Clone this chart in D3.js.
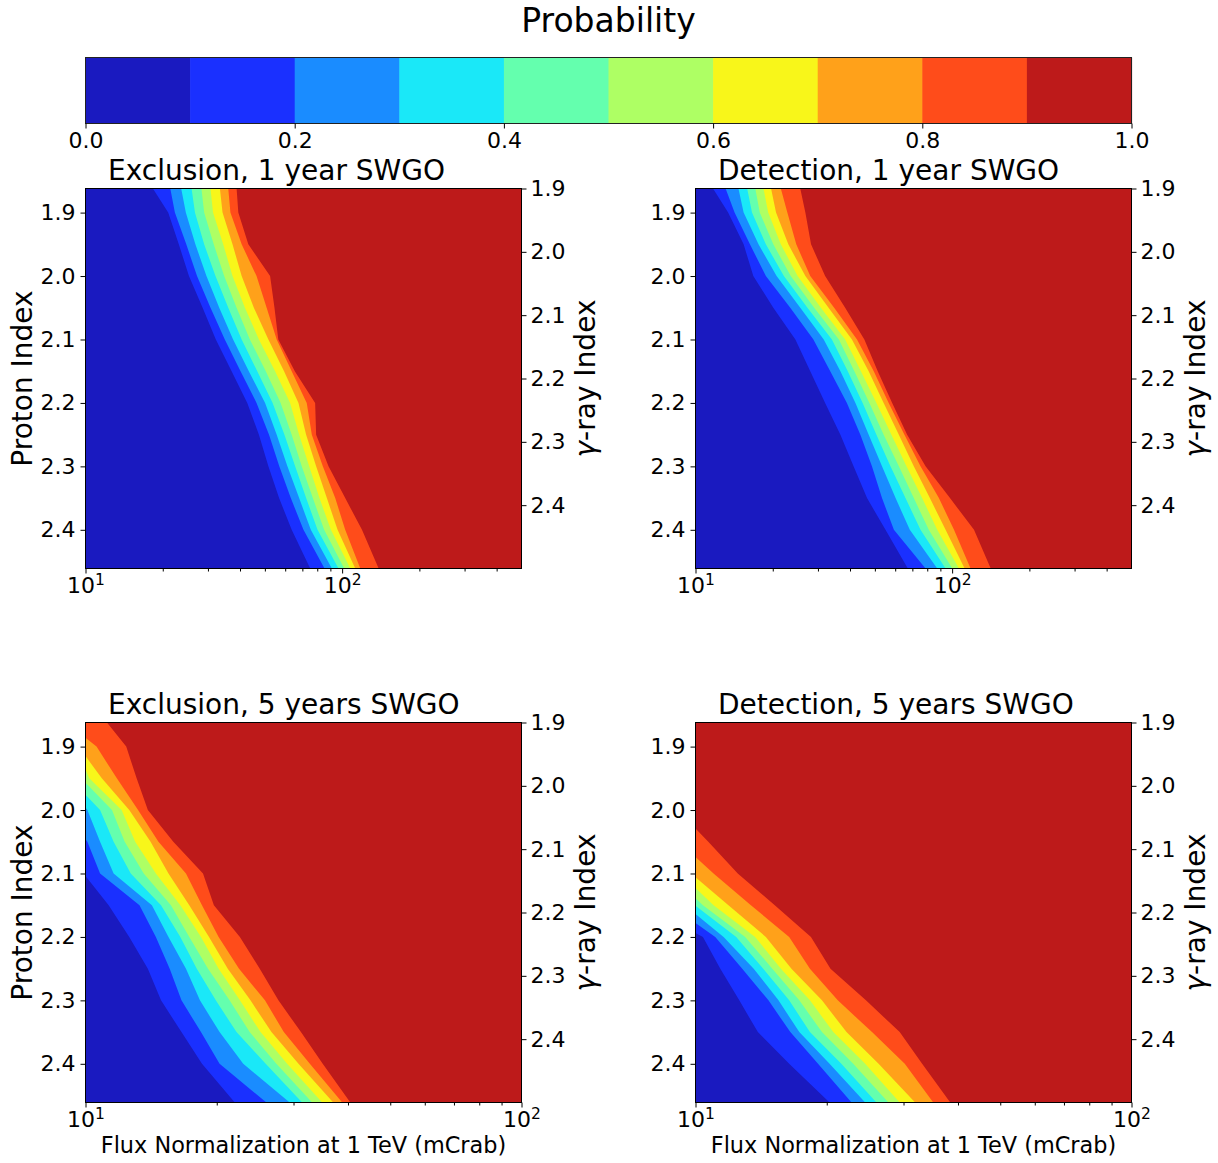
<!DOCTYPE html>
<html>
<head>
<meta charset="utf-8">
<script src="https://cdn.jsdelivr.net/npm/d3@7"></script>
<style>
  body { margin: 0; background: #ffffff; }
  svg { display: block; }
  text { font-family: "DejaVu Sans", sans-serif; fill: #000; }
</style>
</head>
<body>
<svg id="chart" width="1218" height="1163"></svg>
<script>
// ---- contour levels and the jet-style colours of the ten bands ----
const levels = [0.0, 0.1, 0.2, 0.3, 0.4, 0.5, 0.6, 0.7, 0.8, 0.9, 1.0];
const levelColors = ["#1a1ac0", "#1a30ff", "#1a8cff", "#1ae8f8", "#64ffae",
                     "#aeff64", "#f8f61a", "#ffa11a", "#ff4c1a", "#bd1a1a"];
const colorbarTicks = [0.0, 0.2, 0.4, 0.6, 0.8, 1.0];

// ---- axes ----
const protonDomain = [1.862, 2.461];
const gammaDomain = [1.9, 2.5];
const protonTicks = [1.9, 2.0, 2.1, 2.2, 2.3, 2.4];
const gammaTicks = [1.9, 2.0, 2.1, 2.2, 2.3, 2.4];
const fluxDomain1yr = [10, 500];
const fluxDomain5yr = [10, 100];
const fluxDecades = [10, 100];
const fluxMinor1yr = [20, 30, 40, 50, 60, 70, 80, 90, 200, 300, 400];
const fluxMinor5yr = [20, 30, 40, 50, 60, 70, 80, 90];

// proton index rows at which the probability contours are tabulated
const protonIndexRows = [1.862, 1.90, 1.95, 2.00, 2.05, 2.10, 2.15, 2.20, 2.25, 2.30, 2.35, 2.40, 2.461];

// flux (mCrab) where the probability reaches 0.1, 0.2, ... 0.9 on each row
const exclusion1yrFlux = [
  [18.3, 21.4, 23.6, 25.9, 28.3, 30.7, 33.4, 36.0, 38.8],
  [21.0, 22.3, 24.6, 26.7, 29.0, 31.4, 34.2, 36.7, 39.4],
  [23.1, 24.7, 26.8, 29.0, 31.6, 34.4, 37.4, 40.6, 43.1],
  [25.3, 27.2, 29.6, 32.1, 34.7, 37.4, 40.6, 46.4, 52.4],
  [28.6, 30.7, 33.2, 36.0, 38.8, 41.8, 45.3, 50.8, 54.5],
  [32.2, 34.9, 37.6, 40.6, 43.7, 47.4, 51.6, 55.6, 56.4],
  [37.1, 40.2, 43.3, 46.7, 50.4, 54.8, 59.4, 63.6, 65.4],
  [42.7, 46.4, 50.1, 53.6, 57.6, 62.7, 67.6, 72.8, 78.5],
  [47.4, 51.9, 55.6, 59.6, 63.6, 68.0, 72.4, 76.2, 79.2],
  [51.6, 56.9, 61.2, 65.6, 69.6, 74.4, 79.2, 84.1, 88.5],
  [56.8, 63.1, 68.0, 72.4, 76.9, 81.6, 87.2, 94.0, 102.8],
  [63.6, 70.7, 75.5, 80.2, 85.1, 90.4, 96.0, 102.8, 119.5],
  [75.1, 85.4, 91.2, 96.8, 101.9, 107.6, 112.5, 117.7, 138.8]
];
const detection1yrFlux = [
  [11.7, 13.1, 14.7, 15.9, 17.1, 18.4, 19.7, 21.5, 25.6],
  [13.4, 14.2, 15.4, 16.6, 17.8, 19.2, 20.6, 22.8, 26.8],
  [15.4, 16.3, 17.6, 18.8, 20.1, 21.5, 23.0, 24.7, 28.2],
  [16.8, 18.8, 20.7, 22.1, 23.5, 25.0, 26.8, 28.0, 32.0],
  [20.1, 23.4, 25.6, 27.3, 29.0, 30.8, 33.0, 34.7, 38.3],
  [24.5, 28.8, 31.6, 34.0, 36.2, 38.3, 40.7, 42.6, 45.5],
  [28.0, 33.5, 36.7, 39.2, 41.6, 44.1, 47.3, 49.5, 51.3],
  [32.0, 38.9, 42.0, 44.8, 47.6, 50.7, 54.1, 56.6, 58.4],
  [36.7, 43.9, 47.3, 50.7, 54.1, 58.0, 62.0, 65.2, 66.8],
  [41.3, 48.7, 53.3, 57.5, 62.0, 66.4, 70.9, 75.3, 78.8],
  [46.6, 53.3, 60.2, 65.8, 70.9, 76.4, 81.9, 88.8, 98.1],
  [55.0, 59.3, 68.4, 75.3, 81.1, 87.5, 94.3, 101.7, 121.7],
  [67.2, 78.8, 87.5, 94.3, 100.1, 106.3, 111.9, 118.0, 141.4]
];
// null: that contour has not yet come in from the 10 mCrab edge on this row
const exclusion5yrFlux = [
  [null, null, null, null, null, null, null, null, 11.2],
  [null, null, null, null, null, null, null, 10.6, 12.4],
  [null, null, null, null, null, 10.2, 10.9, 11.8, 13.1],
  [null, null, 10.1, 10.8, 11.5, 12.1, 12.6, 13.2, 13.9],
  [null, 10.1, 10.8, 11.6, 12.3, 13.0, 14.1, 14.7, 15.9],
  [null, 10.8, 11.6, 12.7, 13.6, 14.5, 15.5, 17.0, 18.6],
  [11.3, 13.3, 14.2, 14.9, 15.7, 16.5, 17.3, 18.5, 19.7],
  [12.6, 14.5, 15.5, 16.5, 17.3, 18.4, 19.2, 20.2, 22.6],
  [13.9, 15.6, 17.0, 18.0, 19.1, 20.2, 21.2, 22.5, 25.1],
  [14.9, 16.6, 18.3, 19.9, 21.4, 22.6, 23.9, 25.8, 27.7],
  [16.6, 18.4, 20.3, 22.2, 23.8, 25.2, 26.7, 28.5, 31.2],
  [18.5, 20.3, 23.0, 25.9, 27.4, 29.0, 30.8, 32.7, 35.0],
  [22.0, 26.0, 29.4, 31.4, 33.1, 34.9, 37.0, 38.8, 40.5]
];
const detection5yrFlux = [
  [null, null, null, null, null, null, null, null, null],
  [null, null, null, null, null, null, null, null, null],
  [null, null, null, null, null, null, null, null, null],
  [null, null, null, null, null, null, null, null, null],
  [null, null, null, null, null, null, null, null, 10.7],
  [null, null, null, null, null, null, null, 11.0, 12.5],
  [null, null, null, null, 10.4, 11.0, 11.9, 13.4, 15.2],
  [10.4, 11.1, 11.6, 12.4, 13.0, 13.7, 14.5, 16.4, 18.4],
  [11.4, 12.8, 13.6, 14.3, 15.0, 15.7, 16.6, 18.3, 20.4],
  [12.6, 14.7, 15.5, 16.4, 17.3, 18.3, 19.5, 21.2, 24.6],
  [13.9, 16.5, 17.3, 18.3, 19.5, 20.7, 22.2, 25.4, 29.4],
  [16.4, 19.1, 20.3, 21.6, 23.0, 24.5, 26.3, 30.2, 33.1],
  [20.3, 22.8, 24.5, 26.0, 27.7, 29.4, 31.9, 35.1, 38.4]
];
// proton index at which each contour (0.1 ... 0.9) meets the 10 mCrab edge
const exclusion5yrEdge = [2.104, 2.046, 1.996, 1.976, 1.957, 1.936, 1.915, 1.886, null];
const detection5yrEdge = [2.194, 2.178, 2.164, 2.151, 2.139, 2.123, 2.106, 2.074, 2.029];

// ---- layout ----
const svg = d3.select("#chart");
const PW = 436, PH = 380;
const TICK_FONT = "22px";

const panels = [
  { title: "Exclusion, 1 year SWGO", flux: exclusion1yrFlux, edge: null,
    domain: fluxDomain1yr, minor: fluxMinor1yr, x0: 85.5, y0: 188.5, xlabel: false, ylabel: true },
  { title: "Detection, 1 year SWGO", flux: detection1yrFlux, edge: null,
    domain: fluxDomain1yr, minor: fluxMinor1yr, x0: 695.5, y0: 188.5, xlabel: false, ylabel: false },
  { title: "Exclusion, 5 years SWGO", flux: exclusion5yrFlux, edge: exclusion5yrEdge,
    domain: fluxDomain5yr, minor: fluxMinor5yr, x0: 85.5, y0: 722.5, xlabel: true, ylabel: true },
  { title: "Detection, 5 years SWGO", flux: detection5yrFlux, edge: detection5yrEdge,
    domain: fluxDomain5yr, minor: fluxMinor5yr, x0: 695.5, y0: 722.5, xlabel: true, ylabel: false }
];

function styleAxis(sel) {
  sel.select(".domain").remove();
  sel.attr("font-family", "DejaVu Sans, sans-serif").attr("font-size", TICK_FONT);
  sel.selectAll(".tick line").attr("stroke", "#000");
  sel.selectAll(".tick text").attr("fill", "#000");
}

// ---- colour bar ----
const cbX = d3.scaleLinear().domain([0, 1]).range([85.5, 1131.5]);
const cbTop = 57.5, cbH = 66;
const cb = svg.append("g");
cb.selectAll("rect.band").data(levelColors).join("rect")
  .attr("class", "band")
  .attr("x", (d, i) => cbX(levels[i]))
  .attr("width", (d, i) => cbX(levels[i + 1]) - cbX(levels[i]) + 0.6)
  .attr("y", cbTop).attr("height", cbH)
  .attr("fill", d => d);
cb.append("rect")
  .attr("x", cbX(0)).attr("y", cbTop)
  .attr("width", cbX(1) - cbX(0)).attr("height", cbH)
  .attr("fill", "none").attr("stroke", "#222").attr("stroke-width", 1);
cb.append("g")
  .attr("transform", `translate(0,${cbTop + cbH})`)
  .call(d3.axisBottom(cbX).tickValues(colorbarTicks).tickFormat(d3.format(".1f"))
        .tickSize(5).tickPadding(4).tickSizeOuter(0))
  .call(styleAxis);
svg.append("text")
  .attr("x", (cbX(0) + cbX(1)) / 2).attr("y", 32)
  .attr("text-anchor", "middle").attr("font-size", "33px")
  .text("Probability");

// ---- contour panels ----
panels.forEach((cfg, idx) => {
  const g = svg.append("g").attr("transform", `translate(${cfg.x0},${cfg.y0})`);
  const x = d3.scaleLog().domain(cfg.domain).range([0, PW]);
  const y = d3.scaleLinear().domain(protonDomain).range([0, PH]);
  const yGamma = d3.scaleLinear().domain(gammaDomain).range([0, PH]);

  const clipId = "clip" + idx;
  g.append("clipPath").attr("id", clipId)
    .append("rect").attr("width", PW).attr("height", PH);
  const body = g.append("g").attr("clip-path", `url(#${clipId})`);

  // highest band fills the panel, lower bands are stacked on top of it
  body.append("rect").attr("width", PW).attr("height", PH).attr("fill", levelColors[9]);
  const line = d3.line().x(d => x(d[0])).y(d => y(d[1]));
  const fMin = cfg.domain[0];
  for (let k = 9; k >= 1; k--) {
    const pts = [];
    const e = cfg.edge ? cfg.edge[k - 1] : null;
    if (e != null) pts.push([fMin, e]);
    protonIndexRows.forEach((p, i) => {
      const v = cfg.flux[i][k - 1];
      if (v != null) pts.push([v, p]);
    });
    if (!pts.length) continue;
    pts.push([fMin, pts[pts.length - 1][1]], [fMin, pts[0][1]]);
    body.append("path").attr("d", line(pts) + "Z").attr("fill", levelColors[k - 1]);
  }

  g.append("rect").attr("width", PW).attr("height", PH)
    .attr("fill", "none").attr("stroke", "#000").attr("stroke-width", 1);

  // proton index (left)
  g.append("g")
    .call(d3.axisLeft(y).tickValues(protonTicks).tickFormat(d3.format(".1f"))
          .tickSize(5).tickPadding(5).tickSizeOuter(0))
    .call(styleAxis);
  // gamma-ray index (right)
  g.append("g").attr("transform", `translate(${PW},0)`)
    .call(d3.axisRight(yGamma).tickValues(gammaTicks).tickFormat(d3.format(".1f"))
          .tickSize(5).tickPadding(4).tickSizeOuter(0))
    .call(styleAxis);

  // flux (bottom): minor ticks then decades with power-of-ten labels
  g.append("g").attr("transform", `translate(0,${PH})`)
    .call(d3.axisBottom(x).tickValues(cfg.minor).tickFormat("").tickSize(3).tickSizeOuter(0))
    .call(styleAxis);
  const xa = g.append("g").attr("transform", `translate(0,${PH})`)
    .call(d3.axisBottom(x).tickValues(fluxDecades).tickSize(5).tickPadding(4).tickSizeOuter(0))
    .call(styleAxis);
  xa.selectAll(".tick text").text(null).each(function (d) {
    const t = d3.select(this);
    t.append("tspan").text("10");
    t.append("tspan").attr("dy", "-0.55em").attr("font-size", "15.5px")
      .text(Math.round(Math.log10(d)));
  });

  // titles and labels
  g.append("text").attr("x", 22.5).attr("y", -9)
    .attr("font-size", "28px").text(cfg.title);

  if (cfg.ylabel) {
    g.append("text")
      .attr("transform", `translate(${32 - cfg.x0},${PH / 2}) rotate(-90)`)
      .attr("text-anchor", "middle").attr("font-size", "28px")
      .text("Proton Index");
  }
  const gl = g.append("text")
    .attr("transform", `translate(${PW + 73},${PH / 2}) rotate(-90)`)
    .attr("text-anchor", "middle").attr("font-size", "28px");
  gl.append("tspan").attr("font-style", "italic").text("γ");
  gl.append("tspan").text("-ray Index");

  if (cfg.xlabel) {
    g.append("text").attr("x", PW / 2).attr("y", PH + 50)
      .attr("text-anchor", "middle").attr("font-size", "22.4px")
      .text("Flux Normalization at 1 TeV (mCrab)");
  }
});
</script>
</body>
</html>
